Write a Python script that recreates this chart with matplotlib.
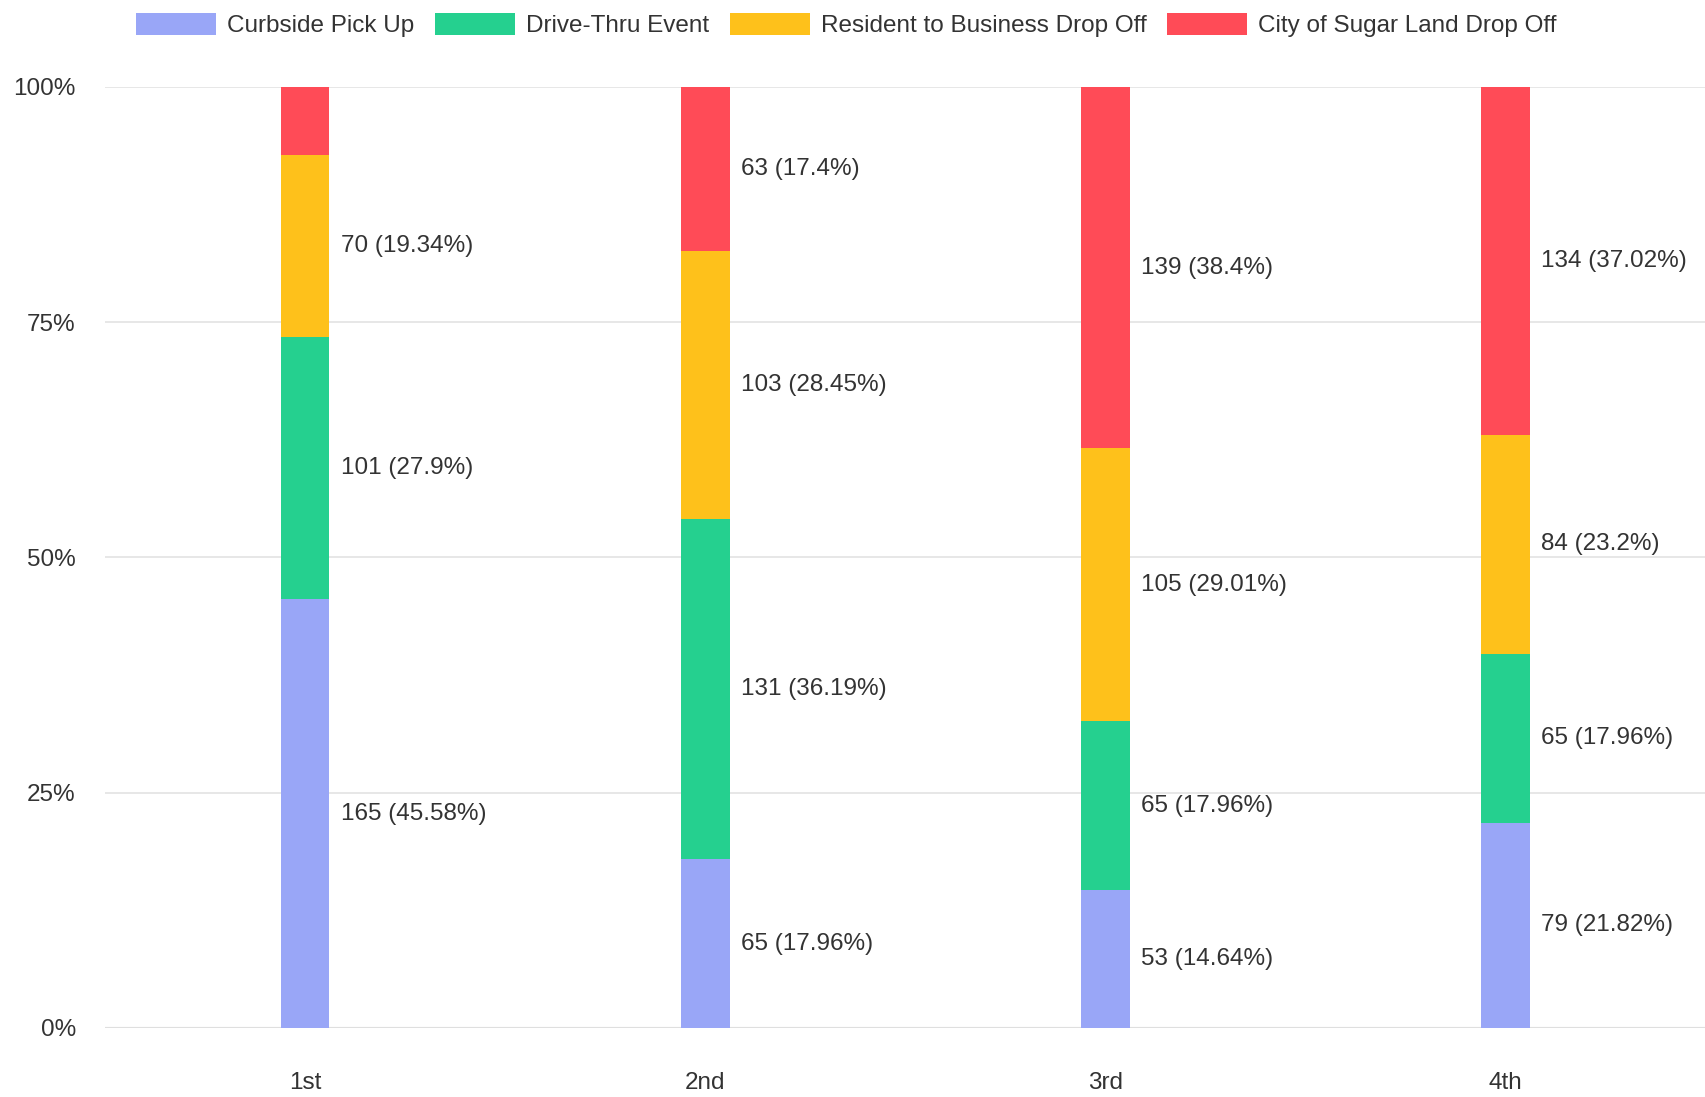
import numpy as np
import matplotlib
matplotlib.use("Agg")
import matplotlib.pyplot as plt
from matplotlib.ticker import FuncFormatter

plt.rcParams['font.family'] = ['Liberation Sans', 'DejaVu Sans']

# data
categories = ["1st", "2nd", "3rd", "4th"]
series_names = ["Curbside Pick Up", "Drive-Thru Event",
                "Resident to Business Drop Off", "City of Sugar Land Drop Off"]
curbside = [165, 65, 53, 79]
drive_thru = [101, 131, 65, 65]
resident = [70, 103, 105, 84]
city = [26, 63, 139, 134]
colors = ["#99a6f7", "#25d08f", "#fec11b", "#ff4b57"]

series = [curbside, drive_thru, resident, city]
totals = np.sum(series, axis=0)

fs = 17.5

fig = plt.figure(figsize=(17.06, 10.97), dpi=100)
ax = fig.add_axes([0.0615, 0.0629, 0.9385, 0.8578])

x = np.arange(len(categories))
width = 0.122
bottom = np.zeros(len(categories))
for name, vals, col in zip(series_names, series, colors):
    vals = np.array(vals, dtype=float)
    pct = vals / totals * 100
    ax.bar(x, pct, width, bottom=bottom, color=col, label=name, zorder=3)
    for xi, v, p, b in zip(x, vals, pct, bottom):
        if p < 10:
            continue  # small segment, no label in the original
        txt = "%d (%s%%)" % (v, ("%.2f" % p).rstrip("0").rstrip("."))
        ax.annotate(txt, (xi + width / 2, b + p / 2), xytext=(8, 0),
                    textcoords="offset points", ha="left", va="center",
                    fontsize=fs, color="#333333")
    bottom += pct

ax.set_xlim(-0.5, 3.5)
ax.set_ylim(0, 100)
ax.set_yticks([0, 25, 50, 75, 100])
ax.yaxis.set_major_formatter(FuncFormatter(lambda v, p: "%d%%" % v))
ax.set_xticks(x)
ax.set_xticklabels(categories)
ax.tick_params(axis="both", length=0, labelsize=fs, colors="#333333")
ax.tick_params(axis="x", pad=32)
ax.tick_params(axis="y", pad=21)
ax.grid(axis="y", color="#e3e3e3", linewidth=1.2, zorder=0)
ax.axhline(0, color="#d0d0d0", linewidth=1.5, zorder=1)
for s in ax.spines.values():
    s.set_visible(False)

fig.legend(loc="upper center", bbox_to_anchor=(0.496, 1.0085), ncol=4,
           frameon=False, fontsize=fs, handlelength=3.3, handleheight=1.05,
           columnspacing=0.85, handletextpad=0.45, labelcolor="#333333")

fig.savefig("out.png", dpi=100, facecolor="white")
